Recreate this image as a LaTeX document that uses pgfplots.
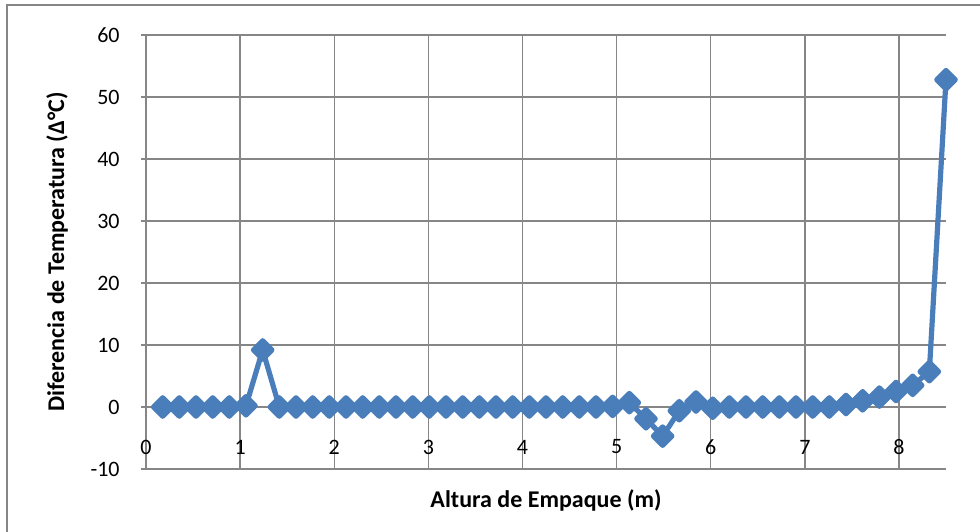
\documentclass[border=0pt]{standalone}
\usepackage{fontspec}
\setmainfont{Carlito}
\usepackage{pgfplots}
\pgfplotsset{compat=1.18}
\definecolor{serie}{HTML}{4A7EBB}
\definecolor{rejilla}{HTML}{868686}

\begin{document}
\begin{tikzpicture}
% page frame (1 px = 0.75 pt)
\useasboundingbox (-109.5pt,-46.5pt) rectangle (625.5pt,351.75pt);
\draw[rejilla, line width=1.5pt] (-104.25pt,-80pt) -- (-104.25pt,348pt) -- (700pt,348pt);
\begin{axis}[
  at={(0pt,0pt)}, anchor=south west,
  scale only axis, width=600pt, height=325.5pt,
  xmin=0, xmax=8.5, ymin=-10, ymax=60,
  xtick={0,...,8}, ytick={-10,0,...,60},
  axis lines*=left,
  axis line style={rejilla, line width=1.1pt, -},
  grid=major, major grid style={rejilla, line width=1.1pt},
  tick style={rejilla, line width=1.1pt},
  xtick style={draw=none},
  ytick align=outside, major tick length=3.75pt,
  /pgf/number format/assume math mode=true,
  ticklabel style={font=\fontsize{16.5}{19}\selectfont},
  xticklabel style={anchor=center, yshift=16.5pt},
  yticklabel style={anchor=east, xshift=-12.5pt},
  label style={font=\bfseries\fontsize{18}{21}\selectfont},
  xlabel={Altura de Empaque (m)},
  ylabel={Diferencia de Temperatura (Δ°C)},
  xlabel style={at={(axis description cs:0.5,-0.0714)}, anchor=center},
  ylabel style={at={(axis description cs:-0.111,0.5)}, anchor=center},
  clip=false,
]
\addplot[serie, line width=3.9pt, line join=round,
  mark=diamond*, mark size=6.9pt,
  mark options={xscale=1.333, fill=serie, draw=none}]
  table[row sep=\\] {
x y \\
0.1771 0 \\
0.3542 0 \\
0.5313 0 \\
0.7083 0 \\
0.8854 0 \\
1.0625 0.2 \\
1.2396 9.2 \\
1.4167 0 \\
1.5938 0 \\
1.7708 0 \\
1.9479 0 \\
2.1250 0 \\
2.3021 0 \\
2.4792 0 \\
2.6563 0 \\
2.8333 0 \\
3.0104 0 \\
3.1875 0 \\
3.3646 0 \\
3.5417 0 \\
3.7188 0 \\
3.8958 0 \\
4.0729 0 \\
4.2500 0 \\
4.4271 0 \\
4.6042 0 \\
4.7813 0 \\
4.9583 0.1 \\
5.1354 0.7 \\
5.3125 -1.9 \\
5.4896 -4.7 \\
5.6667 -0.6 \\
5.8438 0.8 \\
6.0208 -0.2 \\
6.1979 0 \\
6.3750 0 \\
6.5521 0 \\
6.7292 0 \\
6.9063 0 \\
7.0833 0 \\
7.2604 0 \\
7.4375 0.4 \\
7.6146 1.0 \\
7.7917 1.6 \\
7.9688 2.5 \\
8.1458 3.5 \\
8.3229 5.7 \\
8.5000 52.8 \\
};
\end{axis}
\end{tikzpicture}
\end{document}
